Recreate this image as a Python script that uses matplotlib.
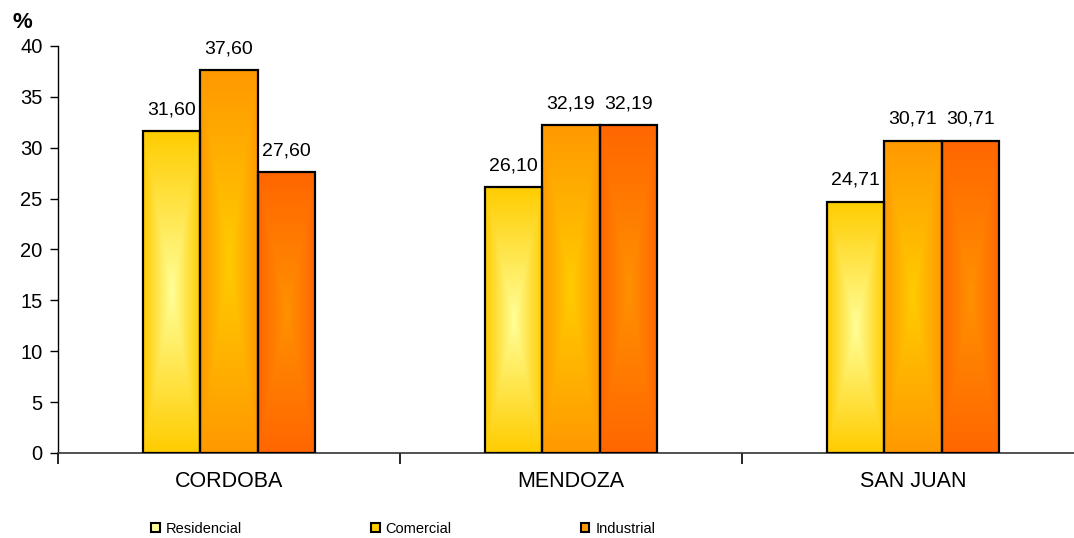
import matplotlib
matplotlib.use("Agg")
import matplotlib.pyplot as plt
import numpy as np
from matplotlib.colors import LinearSegmentedColormap
from matplotlib.patches import Patch

plt.rcParams['font.family'] = ['Liberation Sans', 'DejaVu Sans']

categories = ["CORDOBA", "MENDOZA", "SAN JUAN"]
series_names = ["Residencial", "Comercial", "Industrial"]
residencial = [31.60, 26.10, 24.71]
comercial = [37.60, 32.19, 30.71]
industrial = [27.60, 32.19, 30.71]
values = [residencial, comercial, industrial]
y_ticks = [0, 5, 10, 15, 20, 25, 30, 35, 40]

# (edge colour, centre colour) per series
grad_colors = [("#FFCC00", "#FFFF99"), ("#FF9900", "#FFCC00"), ("#FF6600", "#FF9100")]
legend_colors = ["#FFFF99", "#FFCC00", "#FF9900"]

W, H = 1074, 538
fig = plt.figure(figsize=(W / 100, H / 100), dpi=100)
ax = fig.add_axes([58 / W, 85 / H, 1026 / W, 407 / H])

x = np.arange(len(categories))
bw = 0.168
offsets = [-bw, 0, bw]

ny, nx = 200, 60
yy, xx = np.mgrid[-1:1:ny * 1j, -1:1:nx * 1j]
tgrid = np.maximum(np.abs(xx), np.abs(yy))

for si, vals in enumerate(values):
    bars = ax.bar(x + offsets[si], vals, width=bw, facecolor='none',
                  edgecolor='black', linewidth=1.6, zorder=3)
    cmap = LinearSegmentedColormap.from_list(f"g{si}", [grad_colors[si][1], grad_colors[si][0]])
    for b, v in zip(bars, vals):
        x0, y0 = b.get_x(), b.get_y()
        ax.imshow(tgrid, cmap=cmap, vmin=0, vmax=1, aspect='auto',
                  extent=(x0, x0 + b.get_width(), y0, y0 + b.get_height()),
                  zorder=2, interpolation='bilinear')
        ax.annotate(f"{v:.2f}".replace(".", ","), (x0 + b.get_width() / 2, v),
                    xytext=(0, 12), textcoords='offset points',
                    ha='center', va='baseline', fontsize=14, color='black')

ax.set_xlim(-0.5, 2.5)
ax.set_ylim(0, 40)
ax.set_yticks(y_ticks)
ax.set_yticklabels([str(t) for t in y_ticks], fontsize=14.5)
ax.tick_params(axis='y', length=6, width=1, pad=5, direction='out')

ax.set_xticks([-0.5, 0.5, 1.5, 2.5])
ax.set_xticklabels([])
ax.tick_params(axis='x', which='major', length=8, width=1.2, direction='out')
ax.set_xticks(x, minor=True)
ax.set_xticklabels(categories, minor=True, fontsize=15.5)
ax.tick_params(axis='x', which='minor', length=0, pad=13)

for s in ['top', 'right']:
    ax.spines[s].set_visible(False)
ax.spines['left'].set_linewidth(1)
ax.spines['bottom'].set_linewidth(1.2)
ax.spines['bottom'].set_color('#333333')

fig.text(22 / W, 1 - 23 / H, "%", fontsize=16, fontweight='bold', ha='center', va='center')

handles = [Patch(facecolor=c, edgecolor='black', linewidth=1.5) for c in legend_colors]
fig.legend(handles, series_names, loc='center left', bbox_to_anchor=(151 / W, 1 - 529 / H),
           ncol=3, frameon=False, fontsize=10.5, handlelength=0.6, handleheight=0.6,
           handletextpad=0.4, columnspacing=8.85, borderaxespad=0, borderpad=0)

fig.savefig("out.png", dpi=100)
